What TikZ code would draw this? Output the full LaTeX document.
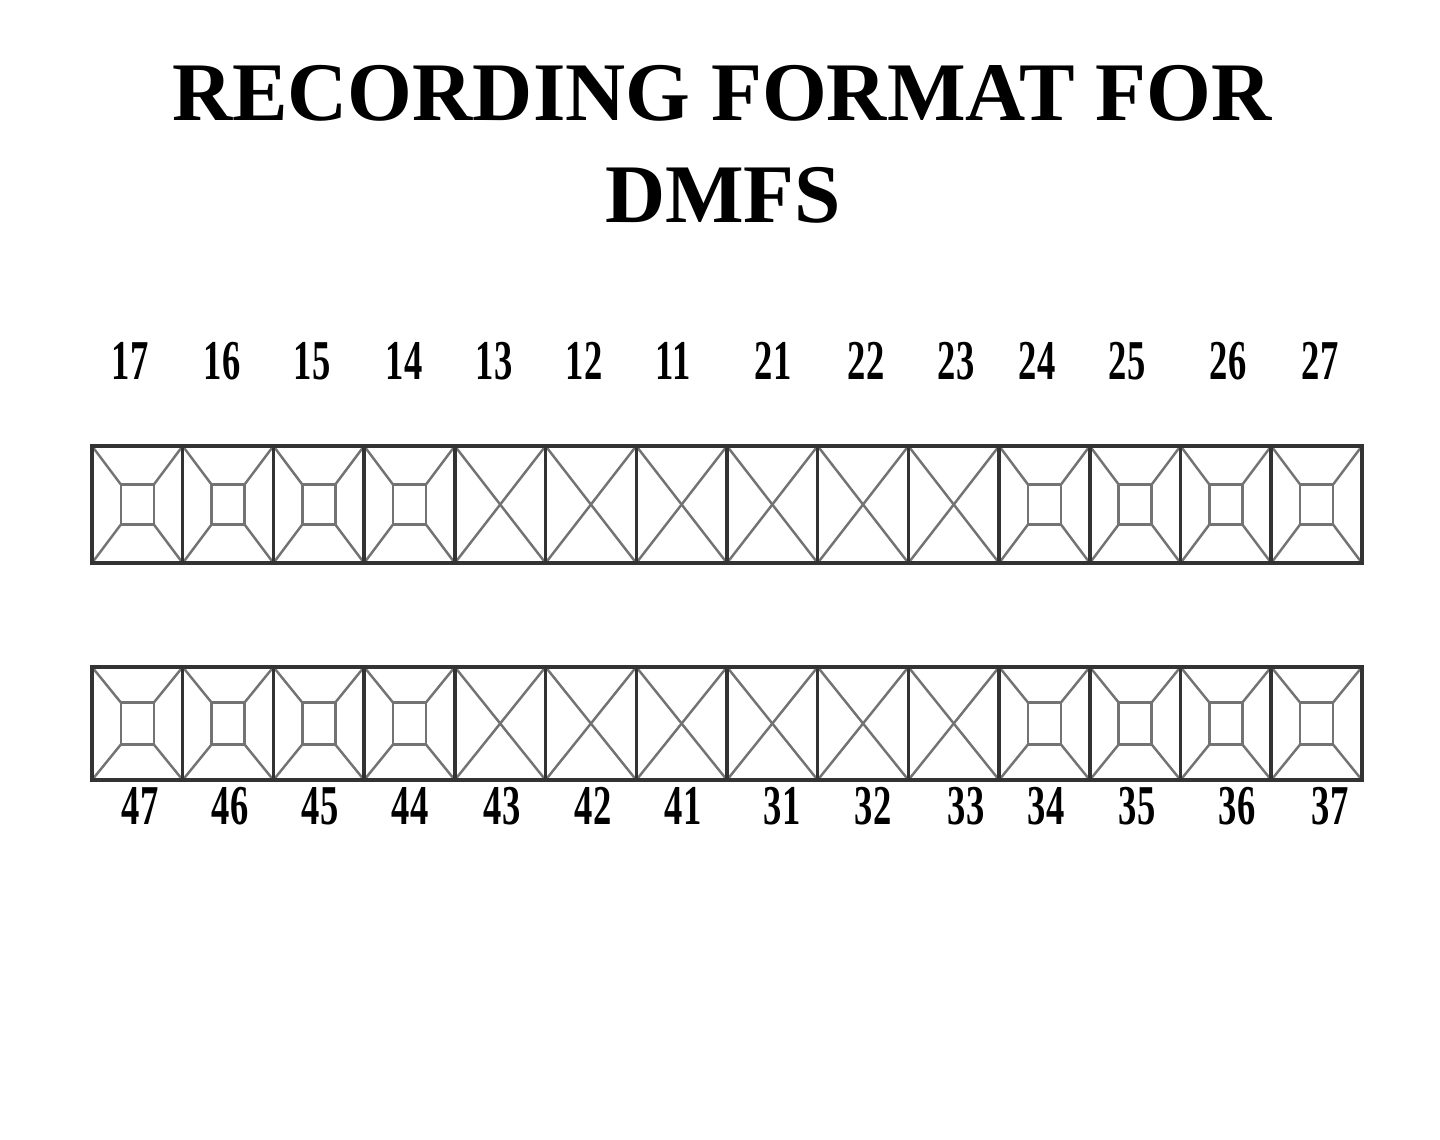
\documentclass[tikz,border=0pt]{standalone}
\usepackage{fontspec}
\usepackage{graphicx}
\setmainfont{Liberation Serif}
\tikzset{outline/.style={line width=1pt,solid,black!80}}
\tikzset{facet/.style={line width=0.7pt,solid,black!55}}
\tikzset{toothnum/.style={font=\bfseries\fontsize{16}{16}\selectfont,inner sep=0pt}}
\tikzset{headline/.style={font=\bfseries\fontsize{23.7}{28}\selectfont,inner sep=0pt,anchor=base}}
\newcommand{\narrownum}[1]{\scalebox{0.65}[1]{#1}}

\begin{document}
\begin{tikzpicture}
	\useasboundingbox (0,0) rectangle (14.4,-11.4);
	% draw the title
	\node[headline] (title1) at (7.22,-1.20) {RECORDING FORMAT FOR};
	\node[headline] (title2) at (7.23,-2.22) {DMFS};
	% draw the back teeth (occlusal square)
	\foreach \top/\bot/\hh in {-4.46/-5.63/0.20, -6.67/-7.80/0.21} {
		\foreach \i in {0,1,2,3,10,11,12,13} {
			\pgfmathsetmacro{\xl}{0.92+\i*0.9071}
			\pgfmathsetmacro{\xr}{\xl+0.9071}
			\pgfmathsetmacro{\cx}{\xl+0.4536}
			\pgfmathsetmacro{\cy}{(\top+\bot)/2}
			\draw[facet] (\cx-0.165,\cy-\hh) rectangle (\cx+0.165,\cy+\hh);
			\draw[facet] (\xl,\top) -- (\cx-0.165,\cy+\hh);
			\draw[facet] (\xr,\top) -- (\cx+0.165,\cy+\hh);
			\draw[facet] (\xl,\bot) -- (\cx-0.165,\cy-\hh);
			\draw[facet] (\xr,\bot) -- (\cx+0.165,\cy-\hh);
			\draw[outline] (\xl,\top) rectangle (\xr,\bot);
		}
		% draw the front teeth (cross)
		\foreach \i in {4,...,9} {
			\pgfmathsetmacro{\xl}{0.92+\i*0.9071}
			\pgfmathsetmacro{\xr}{\xl+0.9071}
			\draw[facet] (\xl,\top) -- (\xr,\bot);
			\draw[facet] (\xr,\top) -- (\xl,\bot);
			\draw[outline] (\xl,\top) rectangle (\xr,\bot);
		}
	}
	% draw the tooth numbers
	\foreach \x/\n in {1.30/17, 2.22/16, 3.12/15, 4.04/14, 4.94/13, 5.84/12, 6.73/11,
		7.73/21, 8.66/22, 9.56/23, 10.37/24, 11.27/25, 12.28/26, 13.20/27} {
		\node[toothnum] (n\n) at (\x,-3.61) {\narrownum{\n}};
	}
	\foreach \x/\n in {1.40/47, 2.30/46, 3.20/45, 4.10/44, 5.02/43, 5.93/42, 6.83/41,
		7.82/31, 8.73/32, 9.66/33, 10.46/34, 11.37/35, 12.37/36, 13.30/37} {
		\node[toothnum] (n\n) at (\x,-8.06) {\narrownum{\n}};
	}
\end{tikzpicture}
\end{document}
